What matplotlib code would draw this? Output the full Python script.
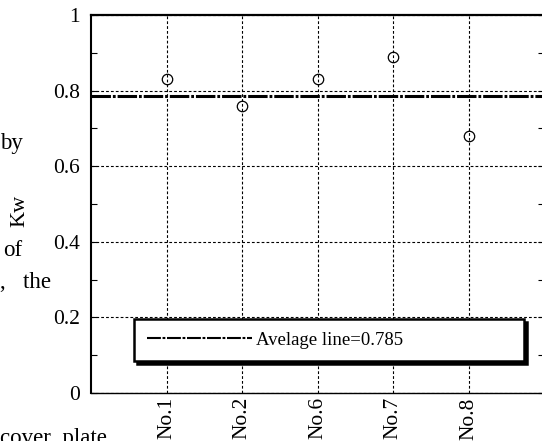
import matplotlib
matplotlib.use("Agg")
import matplotlib.pyplot as plt
from matplotlib.lines import Line2D

# specimen results
specimens = ["No.1", "No.2", "No.6", "No.7", "No.8"]
kw_values = [0.83, 0.76, 0.83, 0.89, 0.68]
kw_average = 0.785

y_ticks = [0, 0.2, 0.4, 0.6, 0.8, 1.0]
y_tick_labels = ["0", "0.2", "0.4", "0.6", "0.8", "1"]
y_minor = [0.1, 0.3, 0.5, 0.7, 0.9]

plt.rcParams["font.family"] = ["Liberation Serif", "DejaVu Serif"]
plt.rcParams["lines.scale_dashes"] = False

W, H = 542, 441
fig = plt.figure(figsize=(W / 100, H / 100), dpi=100)
ax = fig.add_axes([91 / W, 1 - 393 / H, 453 / W, 378 / H])

xpos = list(range(1, len(specimens) + 1))

# average line
ax.axhline(kw_average, color="k", lw=2.2, dashes=(14, 1.4, 2, 1.4), zorder=3)

ax.plot(xpos, kw_values, "o", ms=7.5, mfc="none", mec="k", mew=0.9, zorder=4)

ax.set_xlim(0, 6)
ax.set_ylim(0, 1)
ax.set_xticks(xpos)
ax.set_xticklabels(specimens, rotation=90, fontsize=15.5)
ax.set_yticks(y_ticks)
ax.set_yticklabels(y_tick_labels, fontsize=15.5)
ax.set_yticks(y_minor, minor=True)

ax.tick_params(axis="y", which="both", direction="in", left=True, right=True,
               length=4, width=0.8, pad=8)
ax.tick_params(axis="x", direction="in", length=0, pad=3)

ax.grid(True, which="major", color="k", lw=0.8, ls=(0, (2, 1.5)))
ax.set_axisbelow(True)

for side, lw in (("left", 1.5), ("top", 1.6), ("bottom", 1.0), ("right", 1.5)):
    ax.spines[side].set_linewidth(lw)

ax.set_ylabel("Kw", fontsize=16)
ax.yaxis.set_label_coords(-0.137, 0.481)

handle = Line2D([], [], color="k", lw=1.5, dashes=(10, 1.2, 2, 1.2))
leg = ax.legend([handle], [f"Avelage line={kw_average}"],
                loc="center", bbox_to_anchor=(0.075, 0.079, 0.901, 0.122),
                mode="expand", fontsize=13.5, handlelength=5.6,
                handletextpad=0.22, borderpad=0.66, fancybox=False,
                framealpha=1, edgecolor="k",
                shadow={"color": "k", "alpha": 1})
leg.get_frame().set_linewidth(1.8)
leg.set_zorder(5)

# surrounding body text
body = dict(fontsize=16.5, ha="left", family=["Liberation Serif", "DejaVu Serif"])
fig.text(0 / W, 1 - 143 / H, "by", va="center", **body)
fig.text(3 / W, 1 - 250 / H, "of", va="center", **body)
fig.text(0 / W, 1 - 282 / H, ",   the", va="center", **body)
fig.text(0 / W, 1 - 428 / H, "cover  plate", va="top", **body)

fig.savefig("out.png", dpi=100)
